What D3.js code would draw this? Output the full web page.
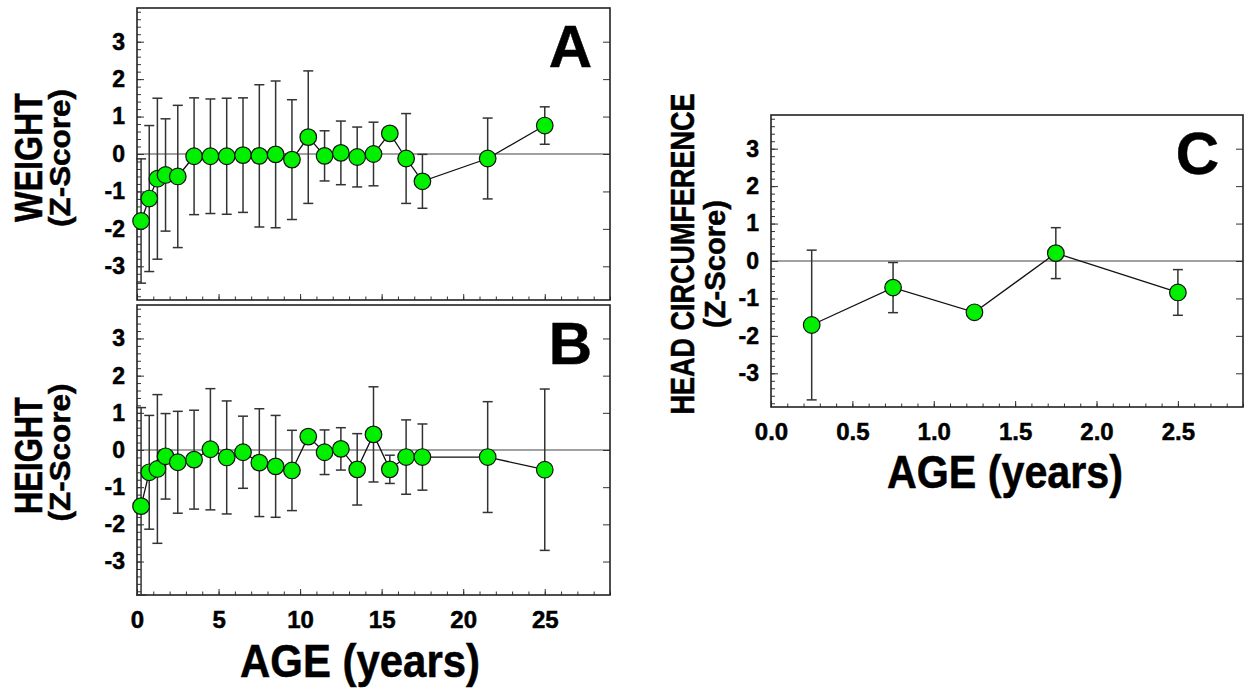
<!DOCTYPE html>
<html lang="en">
  <head>
    <meta charset="UTF-8">
    <title>Z-Score by Age</title>
    <script src="https://d3js.org/d3.v7.min.js"></script>
    <style>
      body { margin: 0; background: #fff; }
      text { font-family: "Liberation Sans", Arial, sans-serif; font-weight: bold; fill: #000;
             stroke: #000; stroke-width: 0.5px; }
    </style>
  </head>
  <body>
    <script>
      // ages shared by panel A (weight) and B (height)
      const agesAB = [0.25, 0.75, 1.25, 1.75, 2.5, 3.5, 4.5, 5.5, 6.5, 7.5, 8.5, 9.5,
                      10.5, 11.5, 12.5, 13.5, 14.5, 15.5, 16.5, 17.5, 21.5, 25];
      const weightZ  = [-1.79, -1.19, -0.66, -0.56, -0.6, -0.06, -0.06, -0.06, -0.03, -0.05, -0.01, -0.15,
                        0.45, -0.05, 0.03, -0.08, 0.0, 0.55, -0.12, -0.73, -0.12, 0.76];
      const weightSD = [1.66, 1.95, 2.15, 1.5, 1.9, 1.56, 1.53, 1.55, 1.53, 1.9, 1.96, 1.6,
                        1.77, 0.67, 0.85, 0.8, 0.85, 0, 1.2, 0.72, 1.08, 0.5];
      const heightZ  = [-1.51, -0.6, -0.51, -0.17, -0.33, -0.26, 0.02, -0.2, -0.06, -0.34, -0.44, -0.55,
                        0.36, -0.06, 0.03, -0.52, 0.42, -0.52, -0.19, -0.19, -0.19, -0.53];
      const heightSD = [2.65, 1.53, 2.0, 1.15, 1.37, 1.33, 1.63, 1.52, 0.97, 1.45, 1.37, 1.08,
                        0, 0.6, 0.57, 0.96, 1.28, 0.38, 1.0, 0.89, 1.49, 2.17];

      // panel C (head circumference)
      const agesC  = [0.25, 0.75, 1.25, 1.75, 2.5];
      const headZ  = [-1.71, -0.71, -1.37, 0.21, -0.84];
      const headSD = [2.0, 0.67, 0, 0.68, 0.61];

      const yTicks   = [-3, -2, -1, 0, 1, 2, 3];
      const xTicksAB = [0, 5, 10, 15, 20, 25];
      const xTicksC  = [0, 0.5, 1, 1.5, 2, 2.5];

      const w = 1251, h = 688;
      const green = "#00f000";

      const svg = d3.select("body").append("svg")
        .attr("width", w)
        .attr("height", h);

      const panels = [
        { letter: "A", left: 137, right: 610, top: 8, bottom: 300, xMax: 29, xTicks: xTicksAB, xMinor: 1,
          xFmt: d => d, labels: false, ages: agesAB, z: weightZ, sd: weightSD },
        { letter: "B", left: 137, right: 610, top: 305, bottom: 595, xMax: 29, xTicks: xTicksAB, xMinor: 1,
          xFmt: d => d, labels: true, ages: agesAB, z: heightZ, sd: heightSD },
        { letter: "C", left: 771, right: 1243, top: 115, bottom: 407, xMax: 2.9, xTicks: xTicksC, xMinor: 0.1,
          xFmt: d3.format(".1f"), labels: true, ages: agesC, z: headZ, sd: headSD }
      ];

      function noDomain(s) { s.select(".domain").remove(); s.selectAll("line").attr("stroke", "#333"); }

      panels.forEach(p => {
        const x = d3.scaleLinear().domain([0, p.xMax]).range([p.left, p.right]);
        const y = d3.scaleLinear().domain([-3.9, 3.9]).range([p.bottom, p.top]).clamp(true);
        const g = svg.append("g");

        // zero reference line
        g.append("line")
          .attr("x1", p.left).attr("x2", p.right)
          .attr("y1", y(0)).attr("y2", y(0))
          .attr("stroke", "#444").attr("stroke-width", 1.2);

        // left axis: minor + major with labels
        const yMinor = d3.range(-19, 20).map(v => v / 5);
        g.append("g").attr("transform", `translate(${p.left},0)`)
          .call(d3.axisLeft(y).tickValues(yMinor).tickSize(-4).tickFormat(""))
          .call(noDomain);
        g.append("g").attr("transform", `translate(${p.left},0)`)
          .call(d3.axisLeft(y).tickValues(yTicks).tickSize(-7).tickPadding(12).tickFormat(d => String(d)))
          .call(noDomain)
          .selectAll("text").style("font-size", "23px");

        // right axis: major only
        g.append("g").attr("transform", `translate(${p.right},0)`)
          .call(d3.axisRight(y).tickValues(yTicks).tickSize(-7).tickFormat(""))
          .call(noDomain);

        // bottom axis
        const nMinor = Math.round(p.xMax / p.xMinor);
        const xMinor = d3.range(0, nMinor + 1).map(i => +(i * p.xMinor).toFixed(2));
        g.append("g").attr("transform", `translate(0,${p.bottom})`)
          .call(d3.axisBottom(x).tickValues(xMinor).tickSize(-3.5).tickFormat(""))
          .call(noDomain);
        g.append("g").attr("transform", `translate(0,${p.bottom})`)
          .call(d3.axisBottom(x).tickValues(p.xTicks).tickSize(-6).tickPadding(16)
            .tickFormat(p.labels ? p.xFmt : ""))
          .call(noDomain)
          .selectAll("text").style("font-size", "24px");

        // frame
        g.append("rect")
          .attr("x", p.left).attr("y", p.top)
          .attr("width", p.right - p.left).attr("height", p.bottom - p.top)
          .attr("fill", "none").attr("stroke", "#222").attr("stroke-width", 1.6);

        const pts = p.ages.map((a, i) => ({ a: a, z: p.z[i], sd: p.sd[i] }));

        // error bars
        const eb = g.selectAll(".eb").data(pts.filter(d => d.sd > 0)).enter().append("g")
          .attr("stroke", "#333").attr("stroke-width", 1.5);
        eb.append("line")
          .attr("x1", d => x(d.a)).attr("x2", d => x(d.a))
          .attr("y1", d => y(d.z + d.sd)).attr("y2", d => y(d.z - d.sd));
        eb.append("line")
          .attr("x1", d => x(d.a) - 5).attr("x2", d => x(d.a) + 5)
          .attr("y1", d => y(d.z + d.sd)).attr("y2", d => y(d.z + d.sd));
        eb.append("line")
          .attr("x1", d => x(d.a) - 5).attr("x2", d => x(d.a) + 5)
          .attr("y1", d => y(d.z - d.sd)).attr("y2", d => y(d.z - d.sd));

        // connecting line
        g.append("path")
          .datum(pts)
          .attr("fill", "none").attr("stroke", "#111").attr("stroke-width", 1.3)
          .attr("d", d3.line().x(d => x(d.a)).y(d => y(d.z)));

        // markers
        g.selectAll("circle").data(pts).enter().append("circle")
          .attr("cx", d => x(d.a)).attr("cy", d => y(d.z))
          .attr("r", 8.3)
          .attr("fill", green).attr("stroke", "#111").attr("stroke-width", 1.2);

        // panel letter
        g.append("text")
          .attr("x", p.right - (p.letter === "C" ? 24 : 18))
          .attr("y", p.top + 59)
          .attr("text-anchor", "end")
          .attr("font-size", 60)
          .text(p.letter);
      });

      // rotated axis titles
      function vText(str, bx, cy, size, len) {
        svg.append("text")
          .attr("transform", `translate(${bx},${cy}) rotate(-90)`)
          .attr("text-anchor", "middle")
          .style("font-size", size + "px")
          .attr("textLength", len)
          .attr("lengthAdjust", "spacingAndGlyphs")
          .text(str);
      }
      vText("WEIGHT", 42, 157.5, 38, 129);
      vText("(Z-Score)", 70, 158, 30, 138);
      vText("HEIGHT", 42, 455.5, 38, 117);
      vText("(Z-Score)", 70, 452.5, 30, 138);
      vText("HEAD CIRCUMFERENCE", 694, 254, 33, 321);
      vText("(Z-Score)", 725, 264, 30, 128);

      // x axis titles
      function hText(str, cx, by, size, len) {
        svg.append("text")
          .attr("x", cx).attr("y", by)
          .attr("text-anchor", "middle")
          .style("font-size", size + "px")
          .attr("textLength", len)
          .attr("lengthAdjust", "spacingAndGlyphs")
          .text(str);
      }
      hText("AGE (years)", 360, 677, 46, 240);
      hText("AGE (years)", 1005, 488, 46, 236);
    </script>
  </body>
</html>
